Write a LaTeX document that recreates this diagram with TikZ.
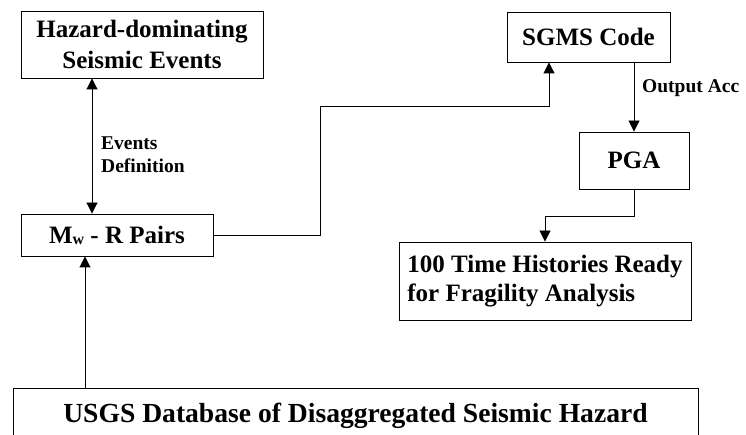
\documentclass[tikz,border=0pt]{standalone}
\usepackage{fontspec}
\setmainfont{Liberation Serif}
\usetikzlibrary{arrows.meta,calc}
\begin{document}
\begin{tikzpicture}[x=1pt,y=-1pt,
  box/.style={draw, line width=0.9pt, inner sep=0pt, font=\fontsize{25}{31}\selectfont\bfseries, align=center},
  lbl/.style={font=\fontsize{19.5}{23}\selectfont\bfseries, align=left, inner sep=0pt},
  conn/.style={line width=0.9pt},
  arr/.style={conn, -{Triangle[length=11pt,width=11pt]}},
  dblarr/.style={conn, {Triangle[length=11pt,width=11pt]}-{Triangle[length=11pt,width=11pt]}}
]
\useasboundingbox (0,0) rectangle (746,435);

\node[box, minimum width=242, minimum height=67] (haz) at (142,44.5) {Hazard-dominating\\Seismic Events};
\node[box, minimum width=192, minimum height=42] (mw) at (117,235) {M\raisebox{-1pt}{\fontsize{16}{16}\selectfont w} - R Pairs};
\node[box, minimum width=163, minimum height=50] (sgms) at (588.5,37) {SGMS Code};
\node[box, minimum width=110, minimum height=57] (pga) at (634,160.5) {PGA};
\node[box, minimum width=292, minimum height=78, align=left, font=\fontsize{25}{29}\selectfont\bfseries] (th) at (545,281) {100 Time Histories Ready\\for Fragility Analysis};
\node[box, minimum width=685, minimum height=54, font=\fontsize{27.6}{33}\selectfont\bfseries] (usgs) at (355.5,415.5) {USGS Database of Disaggregated Seismic Hazard};

\coordinate (xa) at (92,0);
\coordinate (xb) at (85,0);
\coordinate (bend1) at (320,106);
\coordinate (xc) at (549,0);
\coordinate (bend2) at (545,216);

\draw[dblarr] (haz.south -| xa) -- (mw.north -| xa);
\node[lbl, anchor=north west] (evlbl) at (101,136.5) {Events\\Definition};
\draw[arr] (usgs.north -| xb) -- (mw.south -| xb);
\draw[arr] (mw.east) -| (bend1) -| (xc |- sgms.south);
\draw[arr] (sgms.south -| pga.north) -- (pga.north);
\node[lbl, anchor=base west] (oalbl) at (642,93) {Output Acc};
\draw[arr] (pga.south) |- (bend2) -- (th.north -| bend2);
\end{tikzpicture}
\end{document}
